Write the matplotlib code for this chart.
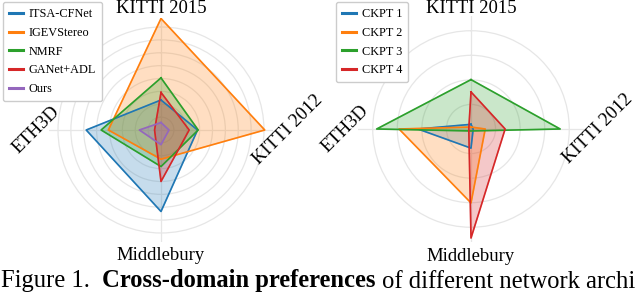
import numpy as np
import matplotlib
matplotlib.use("Agg")
import matplotlib.pyplot as plt

plt.rcParams['font.family'] = ['Liberation Serif', 'DejaVu Serif']

categories = ["KITTI 2015", "KITTI 2012", "Middlebury", "ETH3D"]

# Left chart: network architectures (values in ring units)
left_names = ["ITSA-CFNet", "IGEVStereo", "NMRF", "GANet+ADL", "Ours"]
itsa = [2.33, 2.84, 6.33, 5.81]
igev = [8.66, 8.06, 2.27, 4.09]
nmrf = [4.05, 2.89, 2.84, 4.65]
ganet = [2.92, 2.19, 4.00, 0.50]
ours = [0.58, 0.62, 1.14, 1.68]
left_series = [itsa, igev, nmrf, ganet, ours]
left_ticks = [1, 2, 3, 4, 5, 6, 7, 8]
left_rmax = 8.7

# Right chart: checkpoints
right_names = ["CKPT 1", "CKPT 2", "CKPT 3", "CKPT 4"]
ckpt1 = [0.19, 0.09, 0.78, 2.16]
ckpt2 = [0.08, 0.58, 3.01, 2.93]
ckpt3 = [2.01, 3.63, 0.08, 3.84]
ckpt4 = [1.51, 1.39, 4.44, 0.09]
right_series = [ckpt1, ckpt2, ckpt3, ckpt4]
right_ticks = [1, 2, 3, 4]
right_rmax = 4.6

caption_parts = ["Figure 1.  ", "Cross-domain preferences", " of different network archi"]
caption_weights = ["normal", "bold", "normal"]

colors = ["#1f77b4", "#ff7f0e", "#2ca02c", "#d62728", "#9467bd"]

W, H = 640, 293
fig = plt.figure(figsize=(W / 100, H / 100), dpi=100)


def make_ax(cx, cy, rad):
    rect = [(cx - rad) / W, 1 - (cy + rad) / H, 2 * rad / W, 2 * rad / H]
    ax = fig.add_axes(rect, projection="polar")
    ax.set_theta_offset(np.pi / 2)
    ax.set_theta_direction(-1)
    return ax


def draw(ax, series, names, ticks, rmax, label_r):
    n = len(categories)
    angles = np.arange(n) * 2 * np.pi / n
    ang_closed = np.concatenate([angles, angles[:1]])
    for vals, nm, col in zip(series, names, colors):
        v = np.concatenate([vals, vals[:1]])
        ax.plot(ang_closed, v, color=col, lw=1.2, label=nm, zorder=3)
        ax.fill(ang_closed, v, color=col, alpha=0.25, zorder=2)
    ax.set_ylim(0, rmax)
    ax.set_yticks(ticks)
    ax.set_yticklabels([])
    ax.set_xticks(angles)
    ax.set_xticklabels([])
    ax.grid(True, color="#e6e6e6", lw=0.9)
    ax.spines["polar"].set_visible(False)
    ax.set_facecolor("none")
    rots = [0, 45, 0, 45]
    for a, lab, rot, lr in zip(angles, categories, rots, label_r):
        ax.text(a, lr, lab, ha="center", va="center", rotation=rot,
                rotation_mode="anchor", fontsize=13.4, clip_on=False)


axL = make_ax(161, 130, 112)
draw(axL, left_series, left_names, left_ticks, left_rmax, [9.45, 9.85, 9.75, 9.7])
axR = make_ax(471, 129, 113)
draw(axR, right_series, right_names, right_ticks, right_rmax, [4.92, 5.18, 5.2, 5.14])

leg_kw = dict(loc="upper left", fontsize=8.8, handlelength=1.1,
              handletextpad=0.5, labelspacing=0.55, borderpad=0.5,
              borderaxespad=0.0, frameon=True, fancybox=True, framealpha=1.0,
              edgecolor="#cccccc", bbox_transform=fig.transFigure)
hL, lL = axL.get_legend_handles_labels()
legL = fig.legend(hL, lL, bbox_to_anchor=(3 / W, 1 - 2 / H), **leg_kw)
hR, lR = axR.get_legend_handles_labels()
legR = fig.legend(hR, lR, bbox_to_anchor=(336 / W, 1 - 2 / H), **leg_kw)
for lg in (legL, legR):
    for ln in lg.get_lines():
        ln.set_linewidth(2.2)

# Caption (the reference shows it truncated at the right edge)
fig.canvas.draw()
renderer = fig.canvas.get_renderer()
x = 1 / W
y = 0.5 / H
for txt, wt in zip(caption_parts, caption_weights):
    t = fig.text(x, y, txt, fontsize=17.7, fontweight=wt, ha="left", va="bottom")
    bb = t.get_window_extent(renderer=renderer)
    x = x + bb.width / W

fig.savefig("out.png", dpi=100)
